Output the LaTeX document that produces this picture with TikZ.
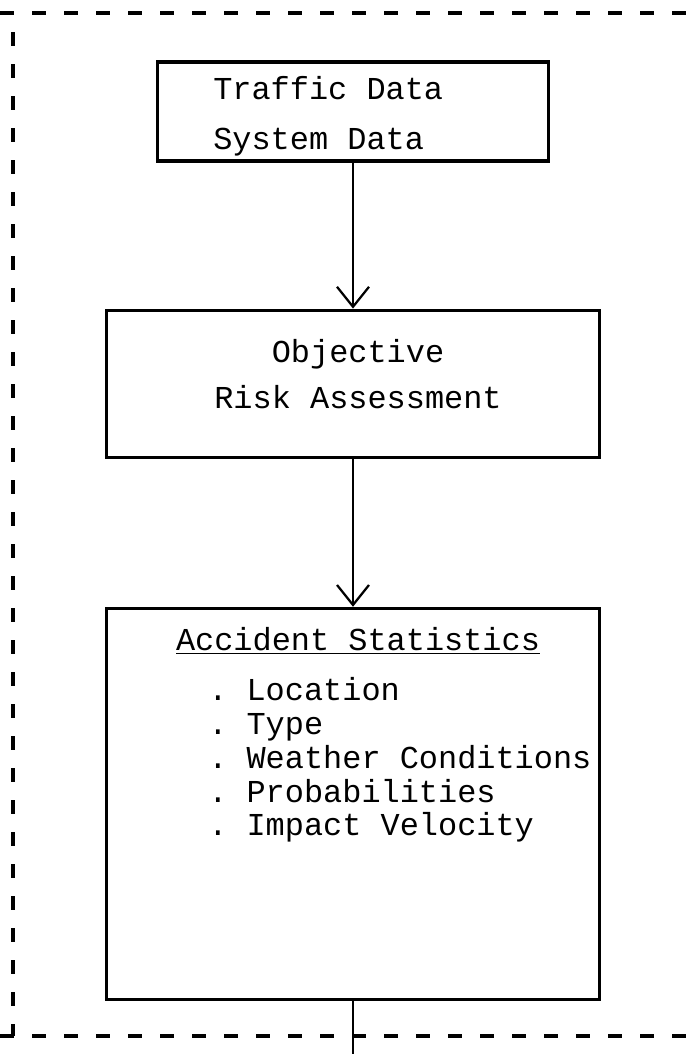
\documentclass[tikz,border=0pt]{standalone}
\usepackage{fontspec}
\setmonofont[WordSpace={1,0,0}]{Liberation Mono}
\usetikzlibrary{positioning}
\usetikzlibrary{arrows.meta}
\tikzstyle{box} = [rectangle,draw=black,line width=2.2pt]
\tikzstyle{txt} = [font=\fontsize{22.7}{24}\selectfont\ttfamily,inner sep=0pt]
\tikzstyle{frame} = [line width=2.4pt,dash pattern=on 0.35cm off 0.45cm]
\tikzset{>={Straight Barb[length=0.5cm,width=0.8cm]}}

\begin{document}
\begin{tikzpicture}[x=0.025cm,y=-0.025cm]
  \useasboundingbox (0,0) rectangle (695,1054);

  % dashed frame
  \draw [frame] (0,13) -- (695,13);
  \draw [frame] (13,32) -- (13,1036);
  \draw [frame] (0,1036) -- (695,1036);

  \node [box,minimum width=9.75cm,minimum height=2.475cm] (data) at (353,111.5) {};
  \node [box,below=3.65cm of data,minimum width=12.3cm,minimum height=3.675cm] (risk) {};
  \node [box,below=3.7cm of risk,minimum width=12.3cm,minimum height=9.775cm] (stats) {};

  \node [txt,align=left,anchor=west,font=\fontsize{22.7}{35.4}\selectfont\ttfamily] (datatext) at (213,116) {Traffic Data\\System Data};
  \node [txt,align=center,font=\fontsize{22.7}{33.3}\selectfont\ttfamily] (risktext) at (358,374) {Objective\\Risk Assessment};
  \node [txt] (title) at (358,641) {\underline{Accident Statistics}};
  \node [txt,align=left,anchor=west] (items) at (208,760) {. Location\\. Type\\. Weather Conditions\\. Probabilities\\. Impact Velocity};

  \coordinate (exit) at (353,1054);
  \draw [->,line width=1.6pt] (data.south) -- (risk.north);
  \draw [->,line width=1.6pt] (risk.south) -- (stats.north);
  \draw [line width=1.6pt] (stats.south) -- (exit);
\end{tikzpicture}
\end{document}
